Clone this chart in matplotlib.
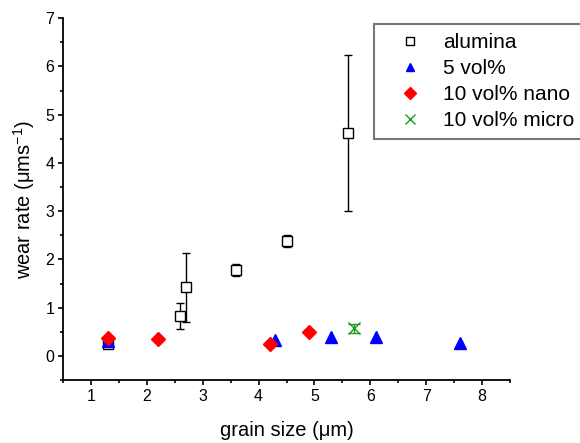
import matplotlib
matplotlib.use("Agg")
import matplotlib.pyplot as plt
from matplotlib.ticker import MultipleLocator

plt.rcParams["font.family"] = ["Liberation Sans", "DejaVu Sans"]
plt.rcParams["mathtext.fontset"] = "custom"
plt.rcParams["mathtext.rm"] = "Liberation Sans"

# alumina (open squares with error bars)
alumina_x = [1.3, 2.6, 2.7, 3.6, 4.5, 5.6]
alumina_y = [0.25, 0.82, 1.42, 1.78, 2.38, 4.62]
alumina_err = [0.06, 0.27, 0.71, 0.12, 0.12, 1.62]

# 5 vol%
vol5_x = [1.3, 4.3, 5.3, 6.1, 7.6]
vol5_y = [0.3, 0.33, 0.4, 0.4, 0.27]
vol5_err = [0.06, 0.1, 0.1, 0.1, 0.1]

# 10 vol% nano
nano_x = [1.3, 2.2, 4.2, 4.9]
nano_y = [0.37, 0.36, 0.24, 0.5]

# 10 vol% micro
micro_x = [5.7]
micro_y = [0.57]
micro_err = [0.1]

fig = plt.figure(figsize=(5.8, 4.43), dpi=100)
ax = fig.add_axes([0.109, 0.142, 0.77, 0.817])

ax.errorbar(alumina_x, alumina_y, yerr=alumina_err, fmt="s", mfc="white", mec="black",
            ms=7.5, mew=1.0, ecolor="black", elinewidth=1.0, capsize=3, capthick=1.0,
            label="alumina", zorder=3)
ax.errorbar(vol5_x, vol5_y, yerr=vol5_err, fmt="^", color="blue", ms=8,
            ecolor="blue", elinewidth=1.0, capsize=0, label="5 vol%", zorder=4)
ax.plot(nano_x, nano_y, "D", color="red", ms=7.5, label="10 vol% nano", zorder=5)
ax.errorbar(micro_x, micro_y, yerr=micro_err, fmt="x", color="#1a9a1a", ms=9, mew=1.0,
            ecolor="#1a9a1a", elinewidth=1.0, capsize=4, capthick=1.0,
            label="10 vol% micro", zorder=4)

ax.set_xlim(0.5, 8.5)
ax.set_ylim(-0.5, 7)
ax.xaxis.set_major_locator(MultipleLocator(1))
ax.xaxis.set_minor_locator(MultipleLocator(0.5))
ax.yaxis.set_major_locator(MultipleLocator(1))
ax.yaxis.set_minor_locator(MultipleLocator(0.5))
ax.tick_params(which="major", direction="out", length=3.5, width=1.2, labelsize=11.5, pad=3)
ax.tick_params(which="minor", direction="out", length=2.5, width=1.2)
ax.spines["top"].set_visible(False)
ax.spines["right"].set_visible(False)
for s in ("left", "bottom"):
    ax.spines[s].set_linewidth(1.3)

ax.set_xlabel("grain size (μm)", fontsize=14.5, labelpad=12)
ax.set_ylabel("wear rate (μms$^{-1}$)", fontsize=14.5, labelpad=6)

handles, labels = ax.get_legend_handles_labels()
order = [labels.index(l) for l in ["alumina", "5 vol%", "10 vol% nano", "10 vol% micro"]]
hs = []
for i in order:
    h = handles[i]
    hs.append(h[0] if hasattr(h, "lines") and h.lines else h)
leg = fig.legend(hs, [labels[i] for i in order], loc="upper left",
                 bbox_to_anchor=(0.645, 0.946), fontsize=15, frameon=True,
                 fancybox=False, edgecolor="#555555", handletextpad=0.35,
                 borderpad=0.45, labelspacing=0.33, handlelength=2.5, markerscale=0.75,
                 borderaxespad=0)
leg.get_frame().set_linewidth(1.5)

fig.savefig("out.png", dpi=100)
